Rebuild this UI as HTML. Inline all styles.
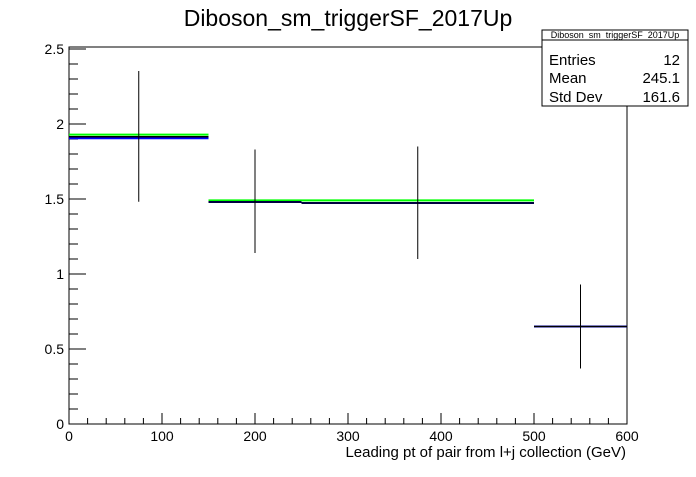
<!DOCTYPE html>
<html><head><meta charset="utf-8"><style>
body{margin:0;background:#fff;}
svg text{font-family:"Liberation Sans",sans-serif;}
</style></head><body>
<svg id="c" width="696" height="472" xmlns="http://www.w3.org/2000/svg">
<rect width="696" height="472" fill="#fff"/>
<text x="348" y="26" font-size="23" text-anchor="middle">Diboson_sm_triggerSF_2017Up</text>
<rect x="69" y="47" width="558" height="377" fill="none" stroke="#000"/>
<g id="axes"></g>
<g id="series"></g>
<text x="626" y="457" font-size="15" text-anchor="end">Leading pt of pair from l+j collection (GeV)</text>
<g>
<rect x="542" y="30" width="146" height="76" fill="#fff" stroke="#000"/>
<line x1="542" y1="40" x2="688" y2="40" stroke="#000"/>
<text x="615" y="38" font-size="9" text-anchor="middle">Diboson_sm_triggerSF_2017Up</text>
<text x="549" y="65" font-size="15">Entries</text><text x="680" y="65" font-size="15" text-anchor="end">12</text>
<text x="549" y="83" font-size="15">Mean</text><text x="680" y="83" font-size="15" text-anchor="end">245.1</text>
<text x="549" y="102" font-size="15">Std Dev</text><text x="680" y="102" font-size="15" text-anchor="end">161.6</text>
</g>
</svg>
<script>
const binEdges=[0,150,250,500,600];
const blackVals=[1.915,1.48,1.473,0.65];
const errLow=[1.482,1.14,1.10,0.37];
const errHigh=[2.353,1.83,1.85,0.93];
const greenVals=[1.929,1.491,1.491,0.65];
const blueVals=[1.905,1.48,1.473,0.65];
const xTicks=[0,100,200,300,400,500,600];
const yTicks=[0,0.5,1,1.5,2,2.5];
const yTickLabels=["0","0.5","1","1.5","2","2.5"];
const X=v=>69+v*0.93, Y=v=>424-v*150;
const NS="http://www.w3.org/2000/svg";
function mk(t,a,p){const e=document.createElementNS(NS,t);for(const k in a)e.setAttribute(k,a[k]);p.appendChild(e);return e;}
const ax=document.getElementById('axes'), se=document.getElementById('series');
for(let v=0;v<=600;v+=20){const big=v%100===0;const l=mk('line',{x1:X(v),x2:X(v),y1:424,y2:424-(big?11:6),stroke:'#000'},ax);

}
xTicks.forEach(v=>{const t=mk('text',{x:X(v),y:441,'font-size':14,'text-anchor':'middle'},ax);t.textContent=v;

});
for(let i=0;i<=25;i++){const v=i*0.1;const big=i%5===0;const l=mk('line',{x1:69,x2:69+(big?17:9),y1:Y(v),y2:Y(v),stroke:'#000'},ax);

}
yTicks.forEach((v,i)=>{const t=mk('text',{x:64,y:Y(v)+5,'font-size':14,'text-anchor':'end'},ax);t.textContent=yTickLabels[i];

});
function hl(vals,color,name,w){vals.forEach((v,i)=>{const l=mk('line',{x1:X(binEdges[i]),x2:X(binEdges[i+1]),y1:Y(v),y2:Y(v),stroke:color,'stroke-width':w},se);

});}
hl(greenVals,'#00ff00','green-series-bin',2);
hl(blueVals,'#0000ff','blue-series-bin',2);
hl(blackVals,'#000','data-bin',1.5);
blackVals.forEach((v,i)=>{const c=(binEdges[i]+binEdges[i+1])/2;const l=mk('line',{x1:X(c),x2:X(c),y1:Y(errLow[i]),y2:Y(errHigh[i]),stroke:'#000'},se);

});
</script>
</body></html>
